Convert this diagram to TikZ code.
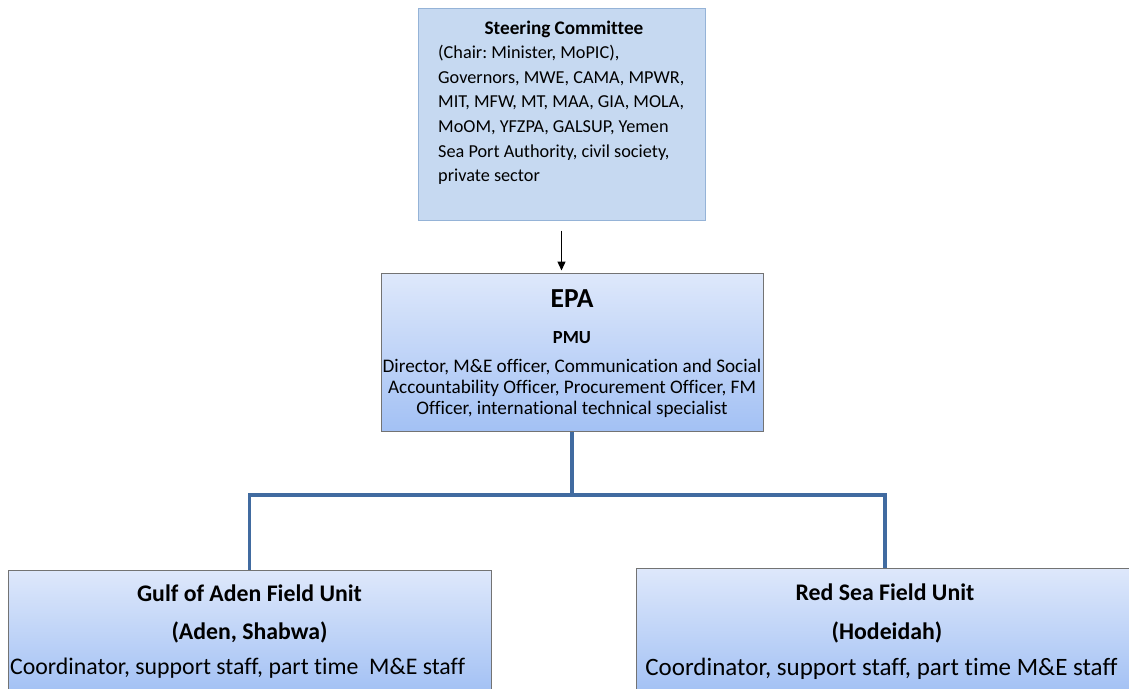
\documentclass[tikz,border=0pt]{standalone}
\usepackage{fontspec}
\setmainfont{Carlito}[Ligatures=NoCommon]
\usetikzlibrary{arrows.meta}
\definecolor{scfill}{RGB}{198,217,241}
\definecolor{scdraw}{RGB}{149,179,215}
\definecolor{gtop}{RGB}{222,232,251}
\definecolor{gbot}{RGB}{163,193,244}
\definecolor{connblue}{RGB}{65,107,160}
\definecolor{boxdraw}{RGB}{115,115,115}
\frenchspacing
\begin{document}
\begin{tikzpicture}[x=1pt,y=-1pt,
  scbox/.style={draw=scdraw, fill=scfill, line width=1pt, inner sep=0pt},
  gbox/.style={draw=boxdraw, line width=1pt, top color=gtop, bottom color=gbot, inner sep=0pt},
  connline/.style={draw=connblue, line width=3.5pt},
  arrowline/.style={draw=black, line width=1.3pt, -{Triangle[length=9pt,width=8pt]}},
  ttl/.style={anchor=base, inner sep=0pt, font=\bfseries\fontsize{#1}{#1}\selectfont},
  txt/.style={inner sep=0pt, font=\fontsize{#1}{#1}\selectfont}
]
\useasboundingbox (0,0) rectangle (1129,688);
\fill[white] (0,0) rectangle (1129,688);

% Steering committee
\node[scbox, minimum width=287pt, minimum height=212pt] (sc) at (561.5,114) {};
\node[ttl=19.2] (sct) at (564,34) {Steering Committee};
\node[anchor=north west, inner sep=0pt, align=left, font=\fontsize{18.25}{24.7}\selectfont] (scb) at (438,40.2)
 {\rule{0pt}{18pt}(Chair: Minister, MoPIC),\\
  Governors, MWE, CAMA, MPWR,\\
  MIT, MFW, MT, MAA, GIA, MOLA,\\
  MoOM, YFZPA, GALSUP, Yemen\\
  Sea Port Authority, civil society,\\
  private sector};

% EPA
\node[gbox, minimum width=382pt, minimum height=158pt] (epa) at (572,352) {};
\node[ttl=27.5] (epat) at (572,307.8) {EPA};
\node[ttl=18.5] (pmu) at (572,343.9) {PMU};
\node[anchor=north, inner sep=0pt, align=center, font=\fontsize{19.2}{20.8}\selectfont] (epab) at (572,354.7)
 {\rule{0pt}{18pt}Director, M\&E officer, Communication and Social\\
  Accountability Officer, Procurement Officer, FM\\
  Officer, international technical specialist};

% Field units
\node[gbox, minimum width=483pt, minimum height=122pt] (fl) at (249.5,631) {};
\node[gbox, minimum width=498pt, minimum height=124pt] (fr) at (885,630) {};

\node[ttl=23.8] (flt) at (249.5,601.5) {Gulf of Aden Field Unit};
\node[ttl=23.8] (flp) at (249.5,639.5) {(Aden, Shabwa)};
\node[txt=23.8, anchor=base west] (flc) at (10,674.5) {Coordinator, support staff, part time\ \ M\&E staff};

\node[ttl=23.8] (frt) at (885,600.5) {Red Sea Field Unit};
\node[ttl=23.8] (frp) at (887,639.5) {(Hodeidah)};
\node[txt=25, anchor=base] (frc) at (881.5,675.5) {Coordinator, support staff, part time M\&E staff};

% Connectors
\coordinate (bus) at (572,495);
\draw[arrowline] ([yshift=-10pt]sc.south) -- ([yshift=2pt]sc.south |- epa.north);
\draw[connline] (epa.south) -- (epa.south |- bus);
\draw[connline, line join=miter] (fl.north) -- (fl.north |- bus) -- (fr.north |- bus) -- (fr.north);
\end{tikzpicture}
\end{document}
